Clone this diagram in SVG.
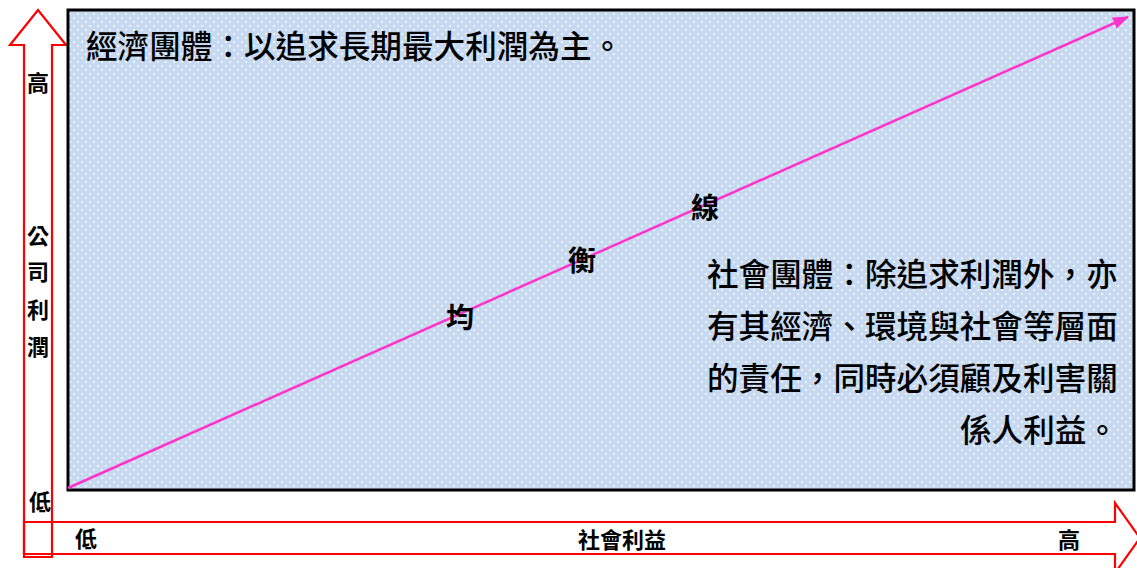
<svg xmlns="http://www.w3.org/2000/svg" width="1137" height="568" viewBox="0 0 1137 568">
<style>
.t{font-family:"Noto Sans CJK TC","Noto Sans CJK SC",sans-serif;fill:#000;}
.big{font-size:31.6px;font-weight:500;}
.lbl{font-size:22px;font-weight:700;text-anchor:middle;}
.eq{font-size:28px;font-weight:700;text-anchor:middle;}
.axis{fill:none;stroke:#ff0000;stroke-width:2.2;stroke-linejoin:miter;}
</style>
<defs>
<pattern id="dots" width="8" height="8" patternUnits="userSpaceOnUse">
<rect width="8" height="8" fill="#c6d9f0"/>
<circle cx="2" cy="2" r="1" fill="#ffffff" fill-opacity="0.9"/>
<circle cx="6" cy="6" r="1" fill="#ffffff" fill-opacity="0.9"/>
</pattern>
<marker id="ah2" viewBox="0 0 16 12" refX="15" refY="6" markerWidth="16" markerHeight="12" orient="auto" markerUnits="userSpaceOnUse">
<path d="M0,0 L16,6 L0,12 Z" fill="#ff33cc"/>
</marker>
</defs>
<rect width="1137" height="568" fill="#ffffff"/>
<g id="axes">
<polygon id="y-axis" class="axis" points="24,557 24,45 10,45 38,10 66,45 52,45 52,557"/>
<polygon id="x-axis" class="axis" points="24,522 1115,522 1115,503 1140,538 1115,573 1115,554 24,554"/>
</g>
<g id="plot">
<rect x="68" y="10" width="1066" height="480" fill="url(#dots)" stroke="#000" stroke-width="3"/>
</g>
<g id="connectors">
<line x1="68" y1="488" x2="1128" y2="17" stroke="#ff33cc" stroke-width="2.5" marker-end="url(#ah2)"/>
</g>
<g id="economic">
<text class="t big" x="86" y="58">經濟團體：以追求長期最大利潤為主。</text>
</g>
<g id="social">
<text class="t big" x="707" y="286">社會團體：除追求利潤外，亦</text>
<text class="t big" x="707" y="338">有其經濟、環境與社會等層面</text>
<text class="t big" x="707" y="390">的責任，同時必須顧及利害關</text>
<text class="t big" x="1118" y="442" text-anchor="end">係人利益。</text>
</g>
<g id="equilibrium">
<text class="t eq" x="460" y="328">均</text>
<text class="t eq" x="582" y="271">衡</text>
<text class="t eq" x="705" y="218">線</text>
</g>
<g id="y-labels">
<text class="t lbl" x="38" y="91">高</text>
<text class="t lbl" x="38" y="244">公</text>
<text class="t lbl" x="38" y="280">司</text>
<text class="t lbl" x="38" y="318">利</text>
<text class="t lbl" x="38" y="355">潤</text>
<text class="t lbl" x="40" y="510">低</text>
</g>
<g id="x-labels">
<text class="t lbl" x="86" y="547">低</text>
<text class="t lbl" x="622" y="548">社會利益</text>
<text class="t lbl" x="1069" y="548">高</text>
</g>
</svg>
